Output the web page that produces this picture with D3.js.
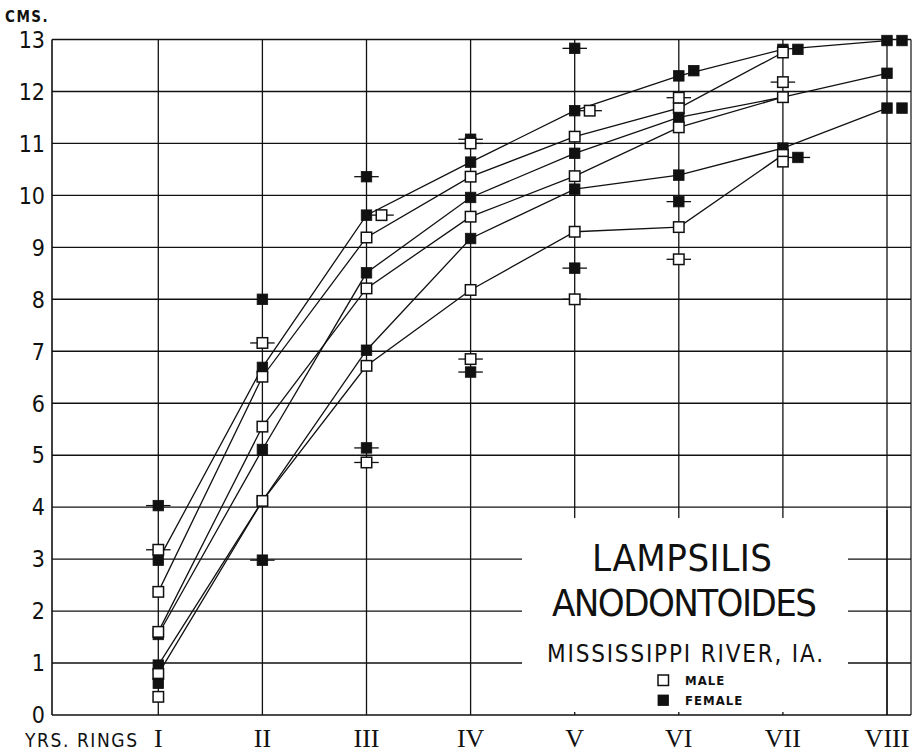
<!DOCTYPE html>
<html><head><meta charset="utf-8">
<script src="https://cdn.jsdelivr.net/npm/d3@7"></script>
<style>body{margin:0;background:#fff}svg{display:block}</style>
</head><body>
<svg id="c" width="913" height="752"></svg>
<script>
// ---- data ----
const rings = ["I","II","III","IV","V","VI","VII","VIII"];
const yTicks = [0,1,2,3,4,5,6,7,8,9,10,11,12,13];
// growth curves (cms at each ring), one per line
const female1 = [2.98, 6.69, 9.62, 10.64, 11.63, 12.30, 12.81, 12.98];
const male1   = [2.37, 6.51, 9.19, 10.36, 11.13, 11.68, 12.75];
const female2 = [1.55, 5.11, 8.51, 9.96, 10.81, 11.50, 11.89, 12.35];
const male2   = [1.60, 5.55, 8.21, 9.59, 10.37, 11.31, 11.89];
const female3 = [0.96, 4.12, 7.02, 9.17, 10.12, 10.39, 10.91, 11.68];
const male3   = [0.79, 4.12, 6.72, 8.18, 9.30, 9.39, 10.78];
const curves = [
  {sex:"F", v:female1},{sex:"M", v:male1},
  {sex:"F", v:female2},{sex:"M", v:male2},
  {sex:"F", v:female3},{sex:"M", v:male3}
];
// isolated extreme marks: ring index (1-based), value, sex, has range ticks, drawn beside the ring line
const extremes = [
  [1,4.03,"F",1,0],[1,3.18,"M",1,0],[1,0.61,"F",0,0],[1,0.35,"M",0,0],
  [2,8.00,"F",0,0],[2,7.16,"M",1,0],[2,2.98,"F",1,0],
  [3,10.36,"F",1,0],[3,9.62,"M",1,1],[3,5.14,"F",1,0],[3,4.86,"M",1,0],
  [4,11.08,"F",1,0],[4,11.00,"M",1,0],[4,6.85,"M",1,0],[4,6.60,"F",1,0],
  [5,12.83,"F",1,0],[5,11.63,"M",1,1],[5,8.60,"F",1,0],[5,8.00,"M",1,0],
  [6,12.40,"F",0,1],[6,11.88,"M",1,0],[6,9.88,"F",1,0],[6,8.77,"M",1,0],
  [7,12.81,"F",0,1],[7,12.18,"M",1,0],[7,10.73,"F",1,1],[7,10.65,"M",0,0],
  [8,12.98,"F",0,1],[8,11.68,"F",0,1]
].map(d=>({ring:d[0],v:d[1],sex:d[2],ticks:!!d[3],beside:!!d[4]}));
const titleLines = ["LAMPSILIS","ANODONTOIDES"];
const subtitle = "MISSISSIPPI RIVER, IA.";
const legendItems = [{sex:"M",label:"MALE"},{sex:"F",label:"FEMALE"}];

// ---- layout ----
const svg = d3.select("#c");
const pLeft = 52, pRight = 911, pTop = 39.5, pBottom = 715;
const x = d3.scaleLinear().domain([1,8]).range([158.3,887]);
const y = d3.scaleLinear().domain([0,13]).range([pBottom, pTop]);
const sz = 10.5, besideOff = 15, tickLen = 7;
const sans = "'DejaVu Sans Condensed','DejaVu Sans',sans-serif";

const g = svg.append("g");
// horizontal grid
g.selectAll("line.h").data(yTicks).join("line")
  .attr("x1",pLeft).attr("x2",pRight)
  .attr("y1",d=>y(d)).attr("y2",d=>y(d))
  .attr("stroke","#111").attr("stroke-width",d=>(d===0||d===13)?1.6:1.4);
// vertical grid
g.selectAll("line.v").data(rings).join("line")
  .attr("x1",(d,i)=>x(i+1)).attr("x2",(d,i)=>x(i+1))
  .attr("y1",pTop).attr("y2",pBottom)
  .attr("stroke","#111").attr("stroke-width",1.3);
g.append("line").attr("x1",pLeft).attr("x2",pLeft).attr("y1",pTop).attr("y2",pBottom).attr("stroke","#111").attr("stroke-width",1.6);
g.append("line").attr("x1",pRight).attr("x2",pRight).attr("y1",pTop).attr("y2",pBottom).attr("stroke","#111").attr("stroke-width",1.2);

// legend box (white panel)
g.append("rect").attr("x",522).attr("y",518).attr("width",326).attr("height",194).attr("fill","#fff");
// keep VIII line visible
g.append("line").attr("x1",x(8)).attr("x2",x(8)).attr("y1",510).attr("y2",pBottom).attr("stroke","#111").attr("stroke-width",1.3);

// y axis labels
svg.append("g").selectAll("text").data(yTicks).join("text")
  .attr("x",45).attr("y",d=>y(d)).attr("dy","0.36em")
  .attr("text-anchor","end").attr("font-family",sans).attr("font-size",23)
  .attr("fill","#111").text(d=>d);
svg.append("text").attr("x",5).attr("y",22).attr("font-family",sans).attr("font-size",15)
  .attr("font-weight","bold").attr("letter-spacing",1.5).attr("fill","#111").text("CMS.");
svg.append("text").attr("x",25).attr("y",747).attr("font-family",sans).attr("font-size",19)
  .attr("textLength",112).attr("lengthAdjust","spacing").attr("fill","#111").text("YRS. RINGS");
svg.append("g").selectAll("text").data(rings).join("text")
  .attr("x",(d,i)=>x(i+1)).attr("y",747).attr("text-anchor","middle")
  .attr("font-family","'Liberation Serif','Times New Roman',serif").attr("font-size",26)
  .attr("fill","#111").text(d=>d);

// curves
const line = d3.line().x((d,i)=>x(i+1)).y(d=>y(d));
svg.append("g").selectAll("path").data(curves).join("path")
  .attr("d",d=>line(d.v)).attr("fill","none").attr("stroke","#111").attr("stroke-width",1.3);

function square(sel, sex){
  sel.attr("width",sz).attr("height",sz)
    .attr("fill",sex==="F"?"#111":"#fff")
    .attr("stroke","#111").attr("stroke-width",sex==="F"?0.8:1.5);
}
// curve markers
const mk = svg.append("g");
curves.forEach(c=>{
  c.v.forEach((v,i)=>{
    mk.append("rect").attr("x",x(i+1)-sz/2).attr("y",y(v)-sz/2).call(square,c.sex);
  });
});
// extremes
const ex = svg.append("g");
extremes.forEach(d=>{
  const cx = x(d.ring) + (d.beside?besideOff:0), cy = y(d.v);
  if(d.ticks){
    ex.append("line").attr("x1",cx-sz/2-tickLen).attr("x2",cx+sz/2+tickLen)
      .attr("y1",cy).attr("y2",cy).attr("stroke","#111").attr("stroke-width",1.3);
  }
  ex.append("rect").attr("x",cx-sz/2).attr("y",cy-sz/2).call(square,d.sex);
});

// title
const tt = svg.append("g").attr("fill","#111").attr("font-family",sans);
tt.append("text").attr("x",592).attr("y",571).attr("font-size",38)
  .attr("textLength",180).attr("lengthAdjust","spacing").text(titleLines[0]);
tt.append("text").attr("x",552).attr("y",616).attr("font-size",38)
  .attr("textLength",265).attr("lengthAdjust","spacing").text(titleLines[1]);
tt.append("text").attr("x",547).attr("y",662).attr("font-size",24)
  .attr("textLength",276).attr("lengthAdjust","spacing").text(subtitle);
legendItems.forEach((d,i)=>{
  const ly = 680 + i*20;
  tt.append("rect").attr("x",658).attr("y",ly-5).call(square,d.sex);
  tt.append("text").attr("x",685).attr("y",ly+5).attr("font-size",13).attr("font-weight","bold")
    .attr("letter-spacing",1).text(d.label);
});
</script>
</body></html>
